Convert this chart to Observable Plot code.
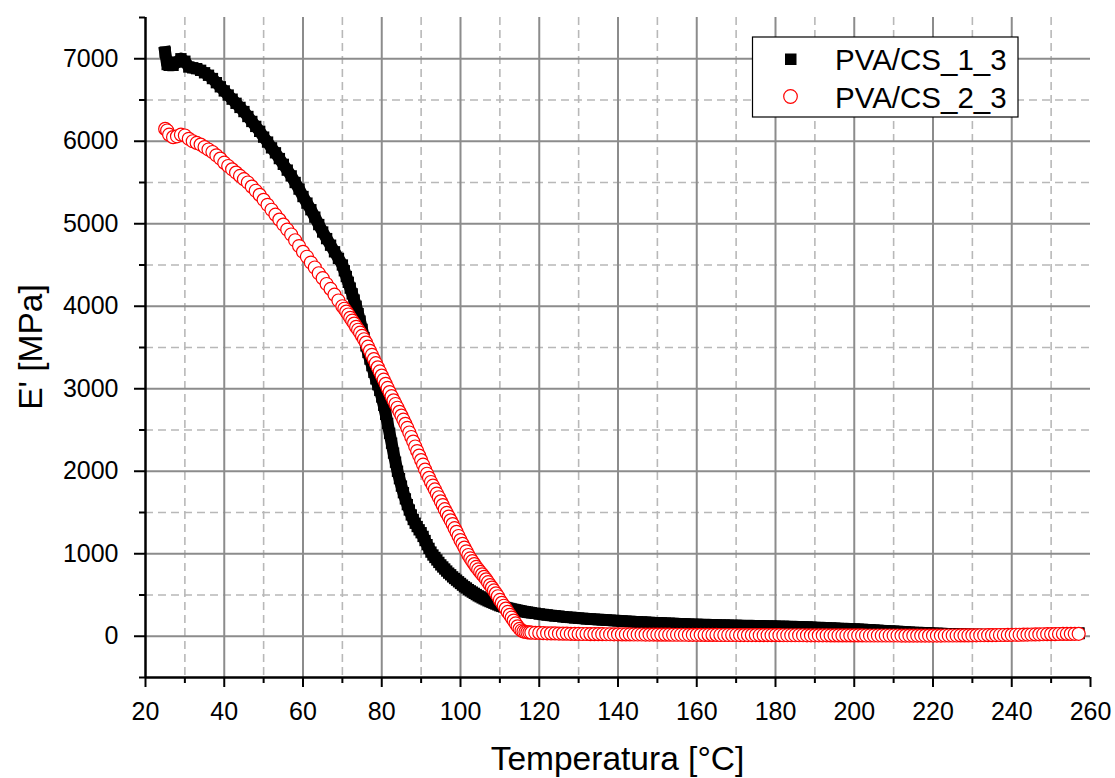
<!DOCTYPE html>
<html>
<head>
<meta charset="utf-8">
<script src="https://cdn.jsdelivr.net/npm/d3@7"></script>
<script src="https://cdn.jsdelivr.net/npm/@observablehq/plot@0.6"></script>
<style>
  html, body { margin: 0; padding: 0; background: #ffffff; }
  svg { display: block; }
</style>
</head>
<body>
<script>
// ---- Data ----
const seriesNames = ["PVA/CS_1_3", "PVA/CS_2_3"];

// Temperature [°C] of each sample
const temps = [
  25, 25.5, 26, 27, 28, 29, 30, 31, 32, 33, 34, 35, 36, 37, 38, 39, 40, 41, 42, 43, 44, 45, 46, 47, 48, 49,
  50, 51, 52, 53, 54, 55, 56, 57, 58, 59, 60, 61, 62, 63, 64, 65, 66, 67, 68, 69,
  70, 70.5, 71, 71.5, 72, 72.5, 73, 73.5, 74, 74.5, 75, 75.5, 76, 76.5, 77, 77.5, 78, 78.5, 79, 79.5,
  80, 80.5, 81, 81.5, 82, 82.5, 83, 83.5, 84, 84.5, 85, 85.5, 86, 86.5, 87, 87.5, 88, 88.5, 89, 89.5,
  90, 90.5, 91, 91.5, 92, 92.5, 93, 93.5, 94, 94.5, 95, 95.5, 96, 96.5, 97, 97.5, 98, 98.5, 99, 99.5,
  100, 100.5, 101, 101.5, 102, 102.5, 103, 103.5, 104, 104.5, 105, 105.5, 106, 106.5, 107, 107.5, 108, 108.5, 109, 109.5,
  110, 110.5, 111, 111.5, 112, 112.5, 113, 113.5, 114, 114.5, 115, 115.5, 116, 116.5, 117, 117.5, 118,
  119, 120, 121, 122, 123, 124, 125, 126, 127, 128, 129, 130, 131, 132, 133, 134, 135, 136, 137, 138, 139,
  140, 141, 142, 143, 144, 145, 146, 147, 148, 149, 150, 151, 152, 153, 154, 155, 156, 157, 158, 159,
  160, 161, 162, 163, 164, 165, 166, 167, 168, 169, 170, 171, 172, 173, 174, 175, 176, 177, 178, 179,
  180, 181, 182, 183, 184, 185, 186, 187, 188, 189, 190, 191, 192, 193, 194, 195, 196, 197, 198, 199,
  200, 201, 202, 203, 204, 205, 206, 207, 208, 209, 210, 211, 212, 213, 214, 215, 216, 217, 218, 219,
  220, 221, 222, 223, 224, 225, 226, 227, 228, 229, 230, 231, 232, 233, 234, 235, 236, 237, 238, 239,
  240, 241, 242, 243, 244, 245, 246, 247, 248, 249, 250, 251, 252, 253, 254, 255, 256, 257
];

// E' [MPa] of PVA/CS_1_3 (black squares)
const ePVA13 = [
  7080, 6930, 6920, 6920, 6960, 7000, 6970, 6900, 6890, 6880, 6860, 6830, 6800, 6760, 6710, 6660, 6610, 6560, 6510, 6460, 6410, 6360, 6300, 6240, 6180, 6120,
  6050, 5990, 5920, 5860, 5790, 5720, 5650, 5580, 5500, 5420, 5330, 5250, 5170, 5080, 4990, 4900, 4820, 4740, 4660, 4580,
  4500, 4430, 4360, 4290, 4220, 4150, 4075, 4000, 3910, 3820, 3720, 3620, 3520, 3440, 3360, 3280, 3200, 3120, 3050, 2980,
  2900, 2800, 2690, 2580, 2460, 2340, 2220, 2110, 2000, 1910, 1820, 1740, 1665, 1595, 1530, 1470, 1415, 1370, 1330, 1290,
  1255, 1210, 1160, 1110, 1065, 1020, 985, 955, 925, 895, 865, 840, 815, 790, 765, 745, 720, 700, 680, 660,
  640, 620, 600, 585, 565, 550, 535, 520, 505, 490, 478, 465, 453, 442, 430, 420, 410, 400, 390, 380,
  370, 362, 355, 348, 342, 336, 330, 325, 320, 315, 310, 305, 300, 296, 292, 288, 284,
  278, 270, 264, 258, 252, 247, 242, 237, 232, 228, 224, 220, 216, 212, 208, 205, 202, 199, 196, 193, 190,
  187, 184, 181, 179, 176, 174, 171, 169, 166, 164, 162, 160, 158, 156, 154, 152, 150, 148, 146, 144,
  142, 141, 140, 138, 137, 136, 134, 133, 132, 131, 130, 129, 128, 127, 126, 125, 124, 123, 122, 121,
  120, 119, 118, 117, 116, 114, 113, 112, 110, 108, 106, 104, 102, 100, 98, 96, 94, 92, 90, 88,
  86, 84, 82, 80, 77, 74, 71, 68, 65, 62, 60, 57, 54, 51, 48, 46, 44, 42, 40, 38,
  36, 34, 32, 30, 28, 26, 25, 24, 23, 22, 21, 20, 20, 19, 19, 19, 19, 19, 20, 20,
  20, 21, 21, 22, 22, 23, 24, 25, 26, 27, 28, 29, 30, 31, 32, 33, 34, 35
];

// E' [MPa] of PVA/CS_2_3 (red open circles)
const ePVA23 = [
  6150, 6130, 6080, 6050, 6060, 6080, 6070, 6030, 6000, 5980, 5960, 5930, 5900, 5870, 5830, 5790, 5740, 5700, 5660, 5620, 5580, 5540, 5500, 5450, 5400, 5350,
  5290, 5230, 5170, 5110, 5050, 4990, 4930, 4870, 4800, 4730, 4660, 4600, 4530, 4470, 4400, 4340, 4270, 4210, 4140, 4070,
  4000, 3970, 3935, 3900, 3860, 3825, 3790, 3750, 3715, 3680, 3640, 3600, 3560, 3510, 3460, 3410, 3360, 3310, 3260, 3210,
  3160, 3110, 3060, 3010, 2960, 2910, 2860, 2815, 2770, 2720, 2675, 2625, 2575, 2525, 2470, 2415, 2360, 2300, 2245, 2190,
  2135, 2080, 2020, 1970, 1920, 1870, 1825, 1780, 1730, 1685, 1635, 1590, 1540, 1495, 1450, 1405, 1360, 1310, 1265, 1215,
  1165, 1120, 1075, 1030, 985, 945, 910, 875, 840, 810, 780, 750, 720, 690, 655, 620, 590, 555, 520, 485,
  440, 405, 370, 335, 295, 260, 225, 190, 155, 120, 90, 70, 58, 52, 48, 46, 44,
  42, 40, 38, 36, 35, 34, 33, 32, 31, 30, 29, 28, 27, 27, 26, 26, 25, 25, 24, 24, 23,
  23, 22, 22, 22, 21, 21, 21, 20, 20, 20, 19, 19, 19, 19, 18, 18, 18, 18, 17, 17,
  17, 17, 16, 16, 16, 16, 15, 15, 15, 15, 15, 14, 14, 14, 14, 14, 13, 13, 13, 13,
  13, 13, 12, 12, 12, 12, 12, 12, 11, 11, 11, 11, 11, 11, 10, 10, 10, 10, 10, 10,
  10, 10, 10, 9, 9, 9, 9, 9, 9, 9, 9, 9, 8, 8, 8, 8, 8, 8, 8, 8,
  8, 8, 8, 9, 9, 9, 9, 10, 10, 10, 11, 11, 12, 12, 13, 13, 14, 15, 15, 16,
  17, 18, 18, 19, 20, 21, 22, 23, 24, 25, 26, 26, 27, 28, 28, 29, 30, 30
];

// Tick values
const xMajorTicks = [20, 40, 60, 80, 100, 120, 140, 160, 180, 200, 220, 240, 260];
const xMinorTicks = [30, 50, 70, 90, 110, 130, 150, 170, 190, 210, 230, 250];
const yMajorTicks = [0, 1000, 2000, 3000, 4000, 5000, 6000, 7000];
const yMinorTicks = [-500, 500, 1500, 2500, 3500, 4500, 5500, 6500, 7500];
const xTitle = "Temperatura [°C]";
const yTitle = "E' [MPa]";

// ---- Build tables ----
const rows13 = temps.map((t, i) => ({t, e: ePVA13[i]}));
const rows23 = temps.map((t, i) => ({t, e: ePVA23[i]}));

const FONT = "'Liberation Sans', Arial, Helvetica, sans-serif";
const fmt = d => String(d);

const chart = Plot.plot({
  width: 1115,
  height: 778,
  marginLeft: 145,
  marginRight: 25,
  marginTop: 17,
  marginBottom: 101,
  style: {fontFamily: FONT, fontSize: "25px", color: "#000", background: "#fff", overflow: "visible"},
  x: {domain: [20, 260]},
  y: {domain: [-500, 7500]},
  marks: [
    // minor dashed grid
    Plot.gridX(xMinorTicks, {stroke: "#b8b8b8", strokeOpacity: 1, strokeWidth: 1.6, strokeDasharray: "8,5"}),
    Plot.gridY(yMinorTicks.filter(v => v > -500 && v < 7500), {stroke: "#b8b8b8", strokeOpacity: 1, strokeWidth: 1.6, strokeDasharray: "8,5"}),
    // major solid grid
    Plot.gridX(xMajorTicks.filter(v => v > 20 && v < 260), {stroke: "#8c8c8c", strokeOpacity: 1, strokeWidth: 2}),
    Plot.gridY(yMajorTicks, {stroke: "#8c8c8c", strokeOpacity: 1, strokeWidth: 2}),
    // data: dense black squares (sample path underlay keeps the band continuous)
    Plot.line(rows13, {x: "t", y: "e", stroke: "#000", strokeWidth: 12, strokeLinejoin: "round", strokeLinecap: "square"}),
    Plot.dot(rows13, {x: "t", y: "e", symbol: "square", r: 6.4, fill: "#000", stroke: "none"}),
    Plot.dot(rows23, {x: "t", y: "e", symbol: "circle", r: 6.5, fill: "#fff", stroke: "#ff0000", strokeWidth: 1.2}),
    // axes
    Plot.axisX(xMajorTicks, {tickSize: 10, tickPadding: 15, strokeWidth: 2, stroke: "#000", label: null, tickFormat: fmt, fontSize: 25}),
    Plot.axisX(xMinorTicks, {tickSize: 6, strokeWidth: 2, stroke: "#000", text: null, label: null}),
    Plot.axisY(yMajorTicks, {tickSize: 11, tickPadding: 16, strokeWidth: 2, stroke: "#000", label: null, tickFormat: fmt, fontSize: 25}),
    Plot.axisY(yMinorTicks, {tickSize: 6, strokeWidth: 2, stroke: "#000", text: null, label: null}),
    Plot.ruleX([20], {stroke: "#000", strokeWidth: 2.5}),
    Plot.ruleY([-500], {stroke: "#000", strokeWidth: 2.5})
  ]
});

document.body.appendChild(chart);

// ---- Axis titles and legend drawn into the same SVG ----
const svg = d3.select(chart);

svg.append("text")
  .attr("x", 617.5).attr("y", 770)
  .attr("text-anchor", "middle")
  .attr("font-family", FONT).attr("font-size", 33.5).attr("fill", "#000")
  .text(xTitle);

svg.append("text")
  .attr("transform", "translate(41.5,347) rotate(-90)")
  .attr("text-anchor", "middle")
  .attr("font-family", FONT).attr("font-size", 33.5).attr("fill", "#000")
  .text(yTitle);

const lg = svg.append("g");
lg.append("rect")
  .attr("x", 752.5).attr("y", 37).attr("width", 265.5).attr("height", 80)
  .attr("fill", "#fff").attr("stroke", "#000").attr("stroke-width", 1.2);
// square
lg.append("rect")
  .attr("x", 785).attr("y", 53.5).attr("width", 11.5).attr("height", 11.5)
  .attr("fill", "#000");
// circle
lg.append("circle")
  .attr("cx", 790.5).attr("cy", 96.5).attr("r", 6.8)
  .attr("fill", "#fff").attr("stroke", "#ff0000").attr("stroke-width", 1.2);
seriesNames.forEach((name, i) => {
  lg.append("text")
    .attr("x", 835).attr("y", 69.5 + i * 38)
    .attr("text-anchor", "start")
    .attr("font-family", FONT).attr("font-size", 29.5).attr("fill", "#000")
    .text(name);
});
</script>
</body>
</html>
